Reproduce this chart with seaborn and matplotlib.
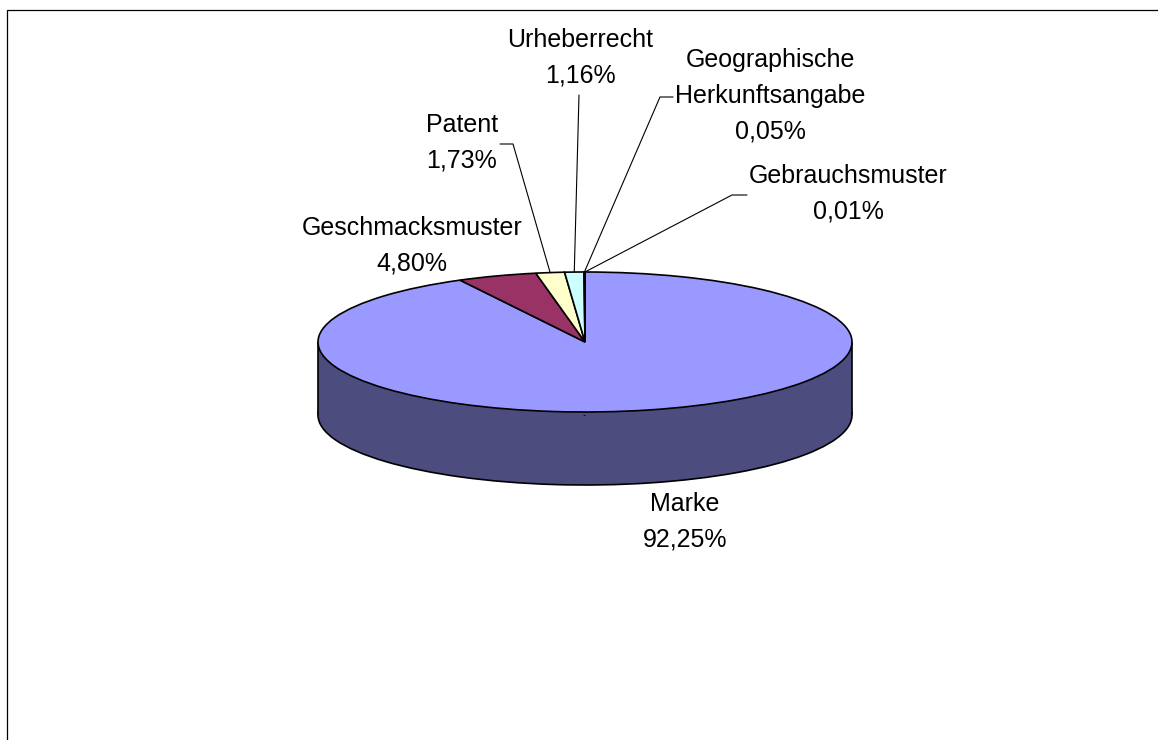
import matplotlib
matplotlib.use("Agg")
import matplotlib.pyplot as plt
import numpy as np
import seaborn as sns
from matplotlib.patches import Rectangle

categories = ["Marke", "Geschmacksmuster", "Patent", "Urheberrecht",
              "Geographische\nHerkunftsangabe", "Gebrauchsmuster"]
shares = [92.25, 4.80, 1.73, 1.16, 0.05, 0.01]
share_labels = ["92,25%", "4,80%", "1,73%", "1,16%", "0,05%", "0,01%"]

top_colors = ["#9999FF", "#993366", "#FFFFCC", "#CCFFFF", "#660066", "#FF8080"]
side_colors = ["#4C4C7F", "#4D1A33", "#808066", "#668080", "#330033", "#804040"]

W, H = 1158, 740
CX, CY = 585, 342   # pie centre, pixels from top-left
RX, RY = 267, 70    # radii of the tilted pie
DEPTH = 73          # height of the side wall, pixels

# text block centre and leader knots (pixels from top-left), per category
label_layout = {
    "Marke": ((685, 522), []),
    "Geschmacksmuster": ((412, 246), []),
    "Patent": ((462, 143), [(500, 144), (513, 144)]),
    "Urheberrecht": ((580, 58), [(579, 95)]),
    "Geographische\nHerkunftsangabe": ((770, 96), [(673, 97), (660, 97)]),
    "Gebrauchsmuster": ((848, 194), [(747, 195), (732, 195)]),
}


def to_data(px, py):
    return (px - CX) / RX, (CY - py) / RY


def main() -> None:
    sns.set_theme(style="white")
    plt.rcParams["font.family"] = ["Liberation Sans", "DejaVu Sans"]

    fig = plt.figure(figsize=(W / 100, H / 100), dpi=100)
    fig.patch.set_facecolor("white")
    ax = fig.add_axes([0, 0, 1, 1])

    depth = DEPTH / RY
    edge = {"edgecolor": "black", "linewidth": 1.2}

    # bottom disc (only its front rim stays visible)
    bottom, _ = ax.pie(shares, colors=side_colors, startangle=90, counterclock=False,
                       center=(0, -depth), radius=1, wedgeprops=edge)
    for w in bottom:
        w.set_zorder(1)

    # side wall between the two discs
    xs = np.linspace(-1, 1, 200)
    ax.fill_between(xs, -depth, 0, color=side_colors[0], linewidth=0, zorder=2)
    ax.vlines([-1, 1], -depth, 0, colors="black", linewidth=1.2, zorder=3)

    # top disc
    top, _ = ax.pie(shares, colors=top_colors, startangle=90, counterclock=False,
                    radius=1, wedgeprops=edge)
    for w in top:
        w.set_zorder(5)

    ax.set_aspect("auto")
    ax.set_xlim(-CX / RX, (W - CX) / RX)
    ax.set_ylim((CY - H) / RY, CY / RY)
    ax.axis("off")

    # labels with leader lines to the slice rim
    total = sum(shares)
    cum = 0.0
    for name, share, lab in zip(categories, shares, share_labels):
        mid = 2 * np.pi * (cum + share / 2) / total
        cum += share
        anchor = (np.sin(mid), np.cos(mid))
        (tx, ty), knots = label_layout[name]
        if knots:
            pts = [to_data(*k) for k in knots] + [anchor]
            ax.plot([p[0] for p in pts], [p[1] for p in pts], color="black",
                    linewidth=0.8, zorder=6)
        x, y = to_data(tx, ty)
        ax.text(x, y, f"{name}\n{lab}", ha="center", va="center", fontsize=18,
                linespacing=1.63, color="black", zorder=7)

    # chart area frame (runs off the right and bottom edges)
    fig.patches.append(Rectangle((7.5 / W, -0.05), 1.1, (H - 9.5) / H + 0.05,
                                 transform=fig.transFigure, fill=False,
                                 edgecolor="black", linewidth=0.9))

    fig.savefig("out.png", dpi=100)
    plt.close(fig)


if __name__ == "__main__":
    main()
